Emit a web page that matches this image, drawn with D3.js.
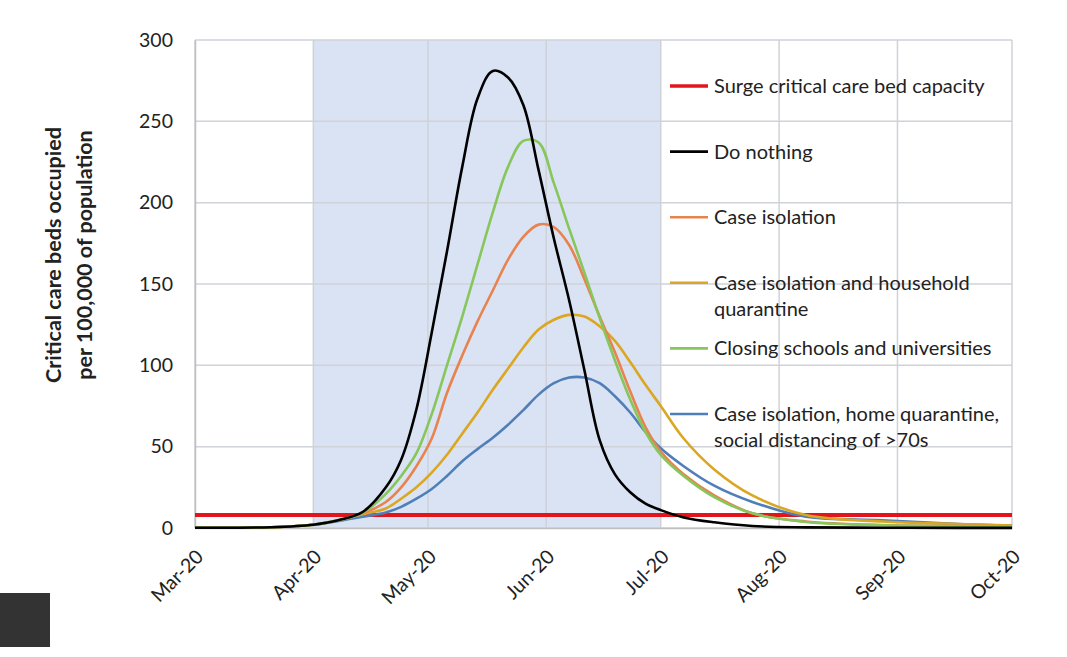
<!DOCTYPE html>
<html>
<head>
<meta charset="utf-8">
<script src="https://cdn.jsdelivr.net/npm/d3@7"></script>
<style>
  body { margin: 0; background: #fff; }
  svg { display: block; font-family: Lato, "Open Sans", sans-serif; }
</style>
</head>
<body>
<svg id="chart" width="1067" height="657"></svg>
<script>
var days = [0, 20, 31, 38, 44, 50, 54, 58, 62, 66, 70, 74, 78, 82, 86, 90, 94, 98, 102, 106, 110, 114, 118, 122, 128, 136, 146, 160, 180, 200, 214];

var doNothing      = [0.2, 0.5, 2, 5, 10, 25, 42, 73, 120, 170, 222, 264, 281, 277, 260, 220, 178, 140, 97, 54, 33, 22, 15, 11, 6.5, 3.5, 1.2, 0.4, 0.2, 0.1, 0.1];
var caseIsolation  = [0.2, 0.5, 2, 5, 9, 16, 25, 38, 55, 83, 106, 127, 146, 165, 179, 186.5, 185, 174, 153, 130, 108, 84, 62, 47, 33, 20, 9, 4, 1.8, 1.3, 1];
var householdQuar  = [0.2, 0.5, 2, 5, 8.5, 12, 18, 25, 34, 45, 58, 71, 85, 98, 111, 122, 128, 131, 130, 124, 115, 102, 88, 75, 55, 36, 20, 8, 4, 2.5, 1.5];
var closingSchools = [0.2, 0.5, 2, 5, 9.5, 21, 32, 46, 70, 100, 130, 162, 194, 222, 238, 237, 212, 184, 157, 129, 103, 79, 59, 45, 32, 19, 9, 3.7, 1.7, 1.2, 1];
var socialDist     = [0.2, 0.5, 2, 4.5, 7, 9.5, 13, 18, 24, 32, 41, 48.5, 55.5, 63.5, 72.5, 82, 89, 92.5, 92.5, 89, 81, 71, 59, 49, 38, 26, 16, 7, 4.8, 2.5, 1.5];

var surgeCapacity = 8;

var monthTicks = ["2020-03-01", "2020-04-01", "2020-05-01", "2020-06-01", "2020-07-01", "2020-08-01", "2020-09-01", "2020-10-01"];
var shadeSpan = ["2020-04-01", "2020-07-01"];
var yTicks = [0, 50, 100, 150, 200, 250, 300];

var seriesColors = ["#000000", "#e8834f", "#dba722", "#86c65a", "#4f7fb8"];
var seriesValues = [doNothing, caseIsolation, householdQuar, closingSchools, socialDist];

var legendLabels = [
  ["Surge critical care bed capacity"],
  ["Do nothing"],
  ["Case isolation"],
  ["Case isolation and household", "quarantine"],
  ["Closing schools and universities"],
  ["Case isolation, home quarantine,", "social distancing of >70s"]
];
var legendColors = ["#e3141c"].concat(seriesColors);

var parse = d3.timeParse("%Y-%m-%d");
var start = parse(monthTicks[0]);
var dates = days.map(function(d) { return d3.timeDay.offset(start, d); });

var svg = d3.select("#chart");
svg.append("rect").attr("width", 1067).attr("height", 657).attr("fill", "#fff");

var x = d3.scaleTime()
  .domain([start, parse(monthTicks[monthTicks.length - 1])])
  .range([195, 1012]);
var y = d3.scaleLinear().domain([0, 300]).range([528, 40]);

// shaded intervention period
svg.append("rect")
  .attr("x", x(parse(shadeSpan[0])))
  .attr("y", y(300))
  .attr("width", x(parse(shadeSpan[1])) - x(parse(shadeSpan[0])))
  .attr("height", y(0) - y(300))
  .attr("fill", "#dae3f3");

// gridlines
svg.append("g").selectAll("line").data(yTicks).enter().append("line")
  .attr("x1", x.range()[0]).attr("x2", x.range()[1])
  .attr("y1", function(d) { return y(d); }).attr("y2", function(d) { return y(d); })
  .attr("stroke", "#cfd2d8").attr("stroke-width", 1.5);
svg.append("g").selectAll("line").data(monthTicks).enter().append("line")
  .attr("x1", function(d) { return x(parse(d)); }).attr("x2", function(d) { return x(parse(d)); })
  .attr("y1", y(0)).attr("y2", y(300))
  .attr("stroke", "#cfd2d8").attr("stroke-width", 1.5);

// axes
var yAxis = svg.append("g")
  .attr("transform", "translate(" + x.range()[0] + ",0)")
  .call(d3.axisLeft(y).tickValues(yTicks).tickSize(0).tickPadding(22));
yAxis.select(".domain").attr("stroke", "#bfbfbf").attr("stroke-width", 1.5);
yAxis.selectAll("text").attr("font-size", 19.5).attr("fill", "#222").attr("font-family", "Lato, sans-serif");

var xAxis = svg.append("g")
  .attr("transform", "translate(0," + y(0) + ")")
  .call(d3.axisBottom(x).tickValues(monthTicks.map(parse)).tickFormat(d3.timeFormat("%b-%y")).tickSize(0));
xAxis.select(".domain").attr("stroke", "#bfbfbf").attr("stroke-width", 1.5);
xAxis.selectAll("text")
  .attr("font-size", 19.5).attr("fill", "#222").attr("font-family", "Lato, sans-serif")
  .attr("text-anchor", "end")
  .attr("dy", null).attr("y", null)
  .attr("transform", "translate(9,30) rotate(-45)");

// y axis title
var title = svg.append("text")
  .attr("transform", "rotate(-90)")
  .attr("text-anchor", "middle")
  .attr("font-weight", "bold")
  .attr("font-size", 21.5)
  .attr("fill", "#222");
title.append("tspan").attr("x", -255).attr("y", 61).text("Critical care beds occupied");
title.append("tspan").attr("x", -255).attr("y", 92).text("per 100,000 of population");

// surge capacity
svg.append("line")
  .attr("x1", x.range()[0]).attr("x2", x.range()[1])
  .attr("y1", y(surgeCapacity)).attr("y2", y(surgeCapacity))
  .attr("stroke", legendColors[0]).attr("stroke-width", 4);

// curves
var line = d3.line()
  .x(function(d, i) { return x(dates[i]); })
  .y(function(d) { return y(Math.max(0, d)); })
  .curve(d3.curveCatmullRom.alpha(0.5));

var drawOrder = [4, 2, 1, 3, 0];
svg.append("g").selectAll("path").data(drawOrder).enter().append("path")
  .attr("d", function(k) { return line(seriesValues[k]); })
  .attr("fill", "none")
  .attr("stroke", function(k) { return seriesColors[k]; })
  .attr("stroke-width", 2.6)
  .attr("stroke-linejoin", "round");

// legend
var legend = svg.append("g").attr("transform", "translate(670,86)");
var item = legend.selectAll("g").data(legendLabels).enter().append("g")
  .attr("transform", function(d, i) { return "translate(0," + (i * 65.6) + ")"; });
item.append("line")
  .attr("x1", 0).attr("x2", 38).attr("y1", 0).attr("y2", 0)
  .attr("stroke", function(d, i) { return legendColors[i]; })
  .attr("stroke-width", function(d, i) { return i === 0 ? 3.5 : 2.6; });
item.append("text")
  .attr("font-size", 20).attr("fill", "#222")
  .selectAll("tspan").data(function(d) { return d; }).enter().append("tspan")
  .attr("x", 44)
  .attr("y", function(d, j) { return j * 26; })
  .attr("dy", "0.35em")
  .text(function(d) { return d; });

// dark square bottom-left in the screenshot
svg.append("rect").attr("x", 0).attr("y", 593).attr("width", 50).attr("height", 54).attr("fill", "#333");
</script>
</body>
</html>
